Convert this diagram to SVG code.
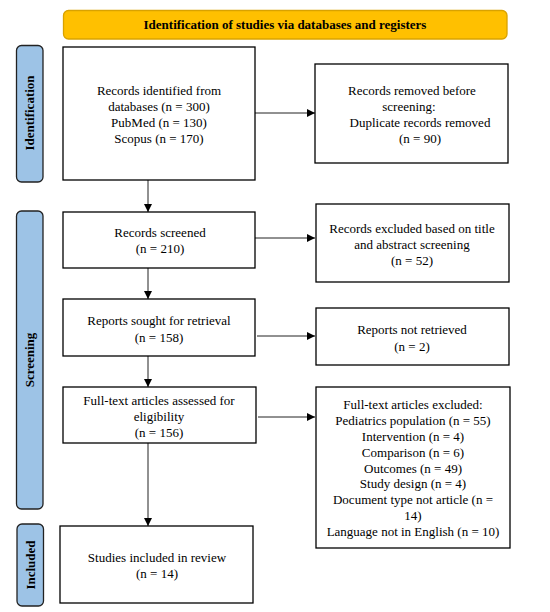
<svg xmlns="http://www.w3.org/2000/svg" width="550" height="612" viewBox="0 0 550 612">
<style>
.box{fill:#fff;stroke:#000;stroke-width:1.3}
.side{fill:#9DC3E6;stroke:#222;stroke-width:1.3}
.t{font-family:"Liberation Serif","Times New Roman",serif;font-size:13px;fill:#000;text-anchor:middle}
.b{font-weight:bold}
.c{stroke:#222;stroke-width:1;fill:none}
</style>
<defs>
<marker id="ah" viewBox="0 0 10 10" refX="10" refY="5" markerWidth="8" markerHeight="8" markerUnits="userSpaceOnUse" orient="auto">
<path d="M0,0 L10,5 L0,10 z" fill="#000"/>
</marker>
</defs>
<rect width="550" height="612" fill="#fff"/>
<g id="banner">
<rect x="63.5" y="10.5" width="443.5" height="28.5" rx="5" fill="#FFC000" stroke="#D9A200" stroke-width="1.3"/>
<text class="t b" x="285" y="29">Identification of studies via databases and registers</text>
</g>
<g id="side-identification">
<rect class="side" x="16.5" y="45.5" width="26.5" height="136.5" rx="5"/>
<text class="t b" transform="translate(34,113) rotate(-90)">Identification</text>
</g>
<g id="side-screening">
<rect class="side" x="16.5" y="211" width="26.5" height="298" rx="5"/>
<text class="t b" transform="translate(34,360) rotate(-90)">Screening</text>
</g>
<g id="side-included">
<rect class="side" x="17" y="524" width="26.5" height="82" rx="5"/>
<text class="t b" transform="translate(35,565) rotate(-90)">Included</text>
</g>
<g id="connectors">
<line class="c" x1="255" y1="113" x2="315" y2="113" marker-end="url(#ah)"/>
<line class="c" x1="148" y1="180" x2="148" y2="212" marker-end="url(#ah)"/>
<line class="c" x1="255" y1="238" x2="315" y2="238" marker-end="url(#ah)"/>
<line class="c" x1="148" y1="268" x2="148" y2="299" marker-end="url(#ah)"/>
<line class="c" x1="257" y1="336" x2="315" y2="336" marker-end="url(#ah)"/>
<line class="c" x1="148" y1="356" x2="148" y2="387" marker-end="url(#ah)"/>
<line class="c" x1="258" y1="417" x2="315" y2="417" marker-end="url(#ah)"/>
<line class="c" x1="148" y1="443" x2="148" y2="526" marker-end="url(#ah)"/>
</g>
<g id="records-identified">
<rect class="box" x="63" y="47" width="192" height="133"/>
<text class="t" x="159" y="95">Records identified from</text>
<text class="t" x="159" y="111">databases (n = 300)</text>
<text class="t" x="159" y="127">PubMed (n = 130)</text>
<text class="t" x="159" y="143">Scopus (n = 170)</text>
</g>
<g id="records-removed">
<rect class="box" x="315" y="64" width="193" height="99"/>
<text class="t" x="412" y="95">Records removed before</text>
<text class="t" x="409" y="111">screening:</text>
<text class="t" x="420" y="127">Duplicate records removed</text>
<text class="t" x="420" y="143">(n = 90)</text>
</g>
<g id="records-screened">
<rect class="box" x="63" y="212" width="192" height="56"/>
<text class="t" x="160" y="237">Records screened</text>
<text class="t" x="160" y="253">(n = 210)</text>
</g>
<g id="records-excluded">
<rect class="box" x="316" y="204" width="193" height="78"/>
<text class="t" x="412" y="233">Records excluded based on title</text>
<text class="t" x="412" y="249">and abstract screening</text>
<text class="t" x="412" y="265">(n = 52)</text>
</g>
<g id="reports-sought">
<rect class="box" x="63" y="299" width="192" height="57"/>
<text class="t" x="159" y="325">Reports sought for retrieval</text>
<text class="t" x="159" y="342">(n = 158)</text>
</g>
<g id="reports-not-retrieved">
<rect class="box" x="316" y="308" width="193" height="57"/>
<text class="t" x="412" y="334">Reports not retrieved</text>
<text class="t" x="412" y="351">(n = 2)</text>
</g>
<g id="fulltext-assessed">
<rect class="box" x="63" y="387" width="193" height="56"/>
<text class="t" x="159" y="405">Full-text articles assessed for</text>
<text class="t" x="159" y="421">eligibility</text>
<text class="t" x="159" y="437">(n = 156)</text>
</g>
<g id="fulltext-excluded">
<rect class="box" x="316" y="387" width="194" height="161"/>
<text class="t" x="413" y="409">Full-text articles excluded:</text>
<text class="t" x="413" y="425">Pediatrics population (n = 55)</text>
<text class="t" x="413" y="441">Intervention (n = 4)</text>
<text class="t" x="413" y="457">Comparison (n = 6)</text>
<text class="t" x="413" y="473">Outcomes (n = 49)</text>
<text class="t" x="413" y="488">Study design (n = 4)</text>
<text class="t" x="413" y="504">Document type not article (n =</text>
<text class="t" x="413" y="520">14)</text>
<text class="t" x="413" y="536">Language not in English (n = 10)</text>
</g>
<g id="studies-included">
<rect class="box" x="60" y="526" width="193" height="77"/>
<text class="t" x="157" y="562">Studies included in review</text>
<text class="t" x="157" y="578">(n = 14)</text>
</g>
</svg>
